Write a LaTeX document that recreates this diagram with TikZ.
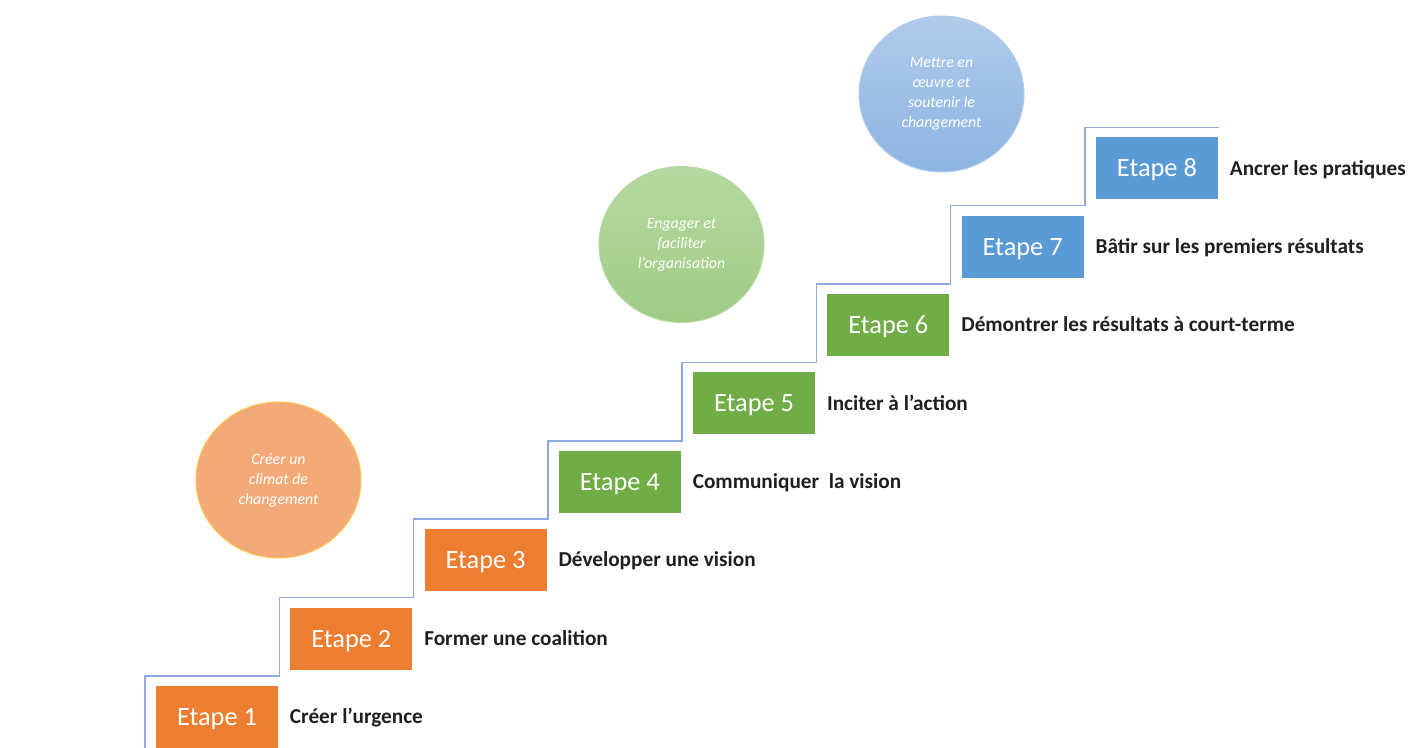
\documentclass[tikz,border=0pt]{standalone}
\usepackage{fontspec}
\setmainfont{Carlito}
\usetikzlibrary{positioning}
\usetikzlibrary{shapes.geometric}

\definecolor{stepOrange}{HTML}{ED7D31}
\definecolor{stepGreen}{HTML}{70AD47}
\definecolor{stepBlue}{HTML}{5B9BD5}
\definecolor{stairBlue}{HTML}{8FAADC}
\definecolor{labelGrey}{HTML}{1F1F1F}
\definecolor{phaseOrange}{HTML}{F3AA78}
\definecolor{phaseGold}{HTML}{F9C74F}
\definecolor{phaseGreenA}{HTML}{B5D9A0}
\definecolor{phaseGreenB}{HTML}{A0CB86}
\definecolor{phaseBlueA}{HTML}{B0CBEA}
\definecolor{phaseBlueB}{HTML}{8DB4E2}

\begin{document}
\begin{tikzpicture}[
    x=0.02cm, y=0.02cm,
    etape/.style={rectangle, fill=#1, text=white, minimum width=2.44cm, minimum height=1.24cm, inner sep=0pt, outer sep=0pt, font=\fontsize{15}{18}\selectfont, text height=9.7pt, text depth=0pt},
    action/.style={inner sep=0pt, outer sep=0pt, text=labelGrey, font=\bfseries\fontsize{12.1}{14}\selectfont, text height=7.7pt, text depth=0pt},
    phase/.style={ellipse, minimum width=3.3cm, minimum height=3.12cm, inner sep=0pt, align=center, text=white, font=\itshape\fontsize{9}{11.4}\selectfont},
    stair/.style={-, stairBlue, line width=0.9pt},
    node distance=0.328cm and 0.246cm
    ]
    \useasboundingbox (0,0) rectangle (1423,747);

    %Nodes
    \node[etape=stepOrange] (e1) at (217,30) {Etape 1};
    \node[etape=stepOrange] (e2) [above right=of e1] {Etape 2};
    \node[etape=stepOrange] (e3) [above right=of e2] {Etape 3};
    \node[etape=stepGreen] (e4) [above right=of e3] {Etape 4};
    \node[etape=stepGreen] (e5) [above right=of e4] {Etape 5};
    \node[etape=stepGreen] (e6) [above right=of e5] {Etape 6};
    \node[etape=stepBlue] (e7) [above right=of e6] {Etape 7};
    \node[etape=stepBlue] (e8) [above right=of e7] {Etape 8};

    \node[action] (a1) [right=0.24cm of e1] {Créer l’urgence};
    \node[action] (a2) [right=0.24cm of e2] {Former une coalition};
    \node[action] (a3) [right=0.24cm of e3] {Développer une vision};
    \node[action] (a4) [right=0.24cm of e4] {Communiquer\ \ la vision};
    \node[action] (a5) [right=0.24cm of e5] {Inciter à l’action};
    \node[action] (a6) [right=0.24cm of e6] {Démontrer les résultats à court-terme};
    \node[action] (a7) [right=0.24cm of e7] {Bâtir sur les premiers résultats};
    \node[action] (a8) [right=0.24cm of e8] {Ancrer les pratiques};

    \node[phase, fill=phaseOrange, draw=phaseGold, line width=0.6pt] (climat) at (278.5,267) {Créer un\\climat de\\changement};
    \node[phase, top color=phaseGreenA, bottom color=phaseGreenB, draw=phaseGreenA, line width=0.6pt] (engager) at (681.5,502.5) {Engager et\\faciliter\\l’organisation};
    \node[phase, top color=phaseBlueA, bottom color=phaseBlueB, draw=phaseBlueA, line width=0.6pt] (soutenir) at (941.5,653) {Mettre en\\œuvre et\\soutenir le\\changement};

    %Lines
    \draw[stair] ([xshift=-0.22cm]e1.south west)
        \foreach \i in {1,...,8} { |- ([shift={(0.026cm,0.2cm)}]e\i.north east) };

\end{tikzpicture}
\end{document}
